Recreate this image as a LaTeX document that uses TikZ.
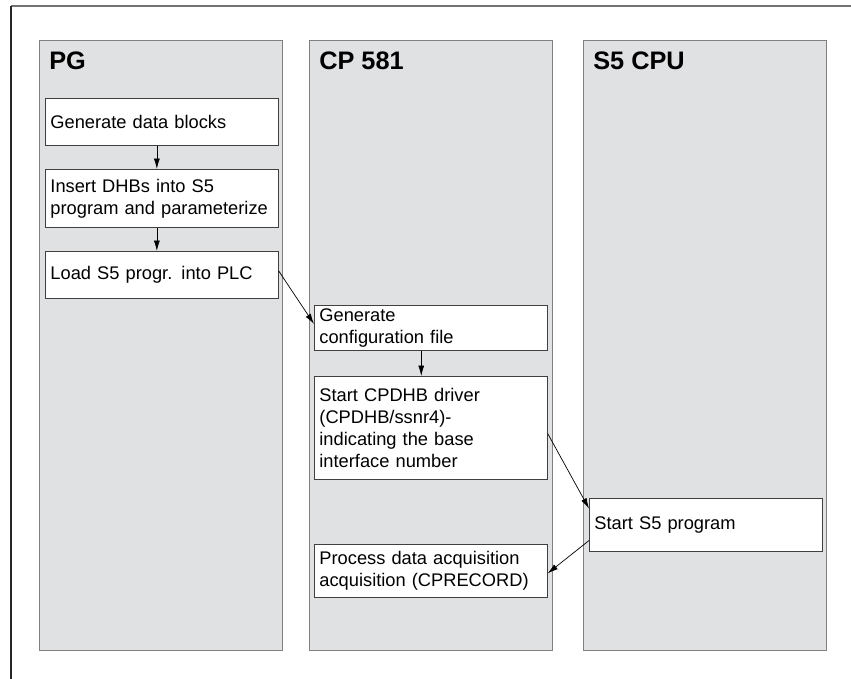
\documentclass[tikz,border=0pt]{standalone}
\usepackage{fontspec}
\setsansfont{Liberation Sans}
\usetikzlibrary{arrows.meta}

\definecolor{lanegray}{RGB}{224,225,227}

\begin{document}
\begin{tikzpicture}[x=0.025cm, y=-0.025cm,
  lane/.style={draw=gray, line width=0.8pt, fill=lanegray, anchor=north west,
               minimum width=6.08cm, minimum height=15.25cm, inner sep=0pt},
  ttl/.style={font=\sffamily\bfseries\fontsize{18}{20}\selectfont, anchor=base west, inner sep=0pt},
  stepbox/.style={draw=black!75, line width=0.6pt, fill=white, anchor=north west,
                  text width=5.57cm, inner xsep=0.125cm, inner ysep=0pt, align=left,
                  font=\sffamily\fontsize{13}{15.6}\selectfont},
  flow/.style={-{Latex[length=2.6mm, width=1.5mm]}, line width=0.5pt}]

  \useasboundingbox (0,0) rectangle (851,679);

  % open frame: top and left edge only
  \draw[gray!90!black, line width=1.3pt] (11,6) -- (851,6);
  \draw[black!85, line width=1pt] (11,6) -- (11,679);

  % Lanes
  \node[lane] (pg)  at (39,40)  {};
  \node[lane] (cp)  at (309,40) {};
  \node[lane] (cpu) at (583,40) {};

  \node[ttl] at ([xshift=0.25cm, yshift=-0.725cm]pg.north west)  {PG};
  \node[ttl] at ([xshift=0.25cm, yshift=-0.725cm]cp.north west)  {CP 581};
  \node[ttl] at ([xshift=0.25cm, yshift=-0.725cm]cpu.north west) {S5 CPU};

  % PG steps
  \node[stepbox, minimum height=1.175cm] (gen)  at (45,98)  {Generate data blocks};
  \node[stepbox, minimum height=1.45cm]  (ins)  at (45,169) {Insert DHBs into S5\\program and parameterize};
  \node[stepbox, minimum height=1.175cm] (load) at (45,251) {Load S5 progr. into PLC};

  % CP 581 steps
  \node[stepbox, minimum height=1.125cm] (cfg)  at (314,305) {Generate\\configuration file};
  \node[stepbox, minimum height=2.575cm] (drv)  at (314,376) {Start CPDHB driver\\(CPDHB/ssnr4)-\\indicating the base\\interface number};
  \node[stepbox, minimum height=1.325cm] (acq)  at (314,544) {Process data acquisition\\acquisition (CPRECORD)};

  % S5 CPU step
  \node[stepbox, minimum height=1.325cm] (run)  at (589,498) {Start S5 program};

  % Connectors
  \draw[flow] ([xshift=-0.125cm]gen.south) -- ([xshift=-0.125cm]ins.north);
  \draw[flow] ([xshift=-0.125cm]ins.south) -- ([xshift=-0.125cm]load.north);
  \draw[flow] ([yshift=0.1cm]load.east) -- ([yshift=0.1cm]cfg.west);
  \draw[flow] ([xshift=-0.24cm]cfg.south) -- ([xshift=-0.24cm]drv.north);
  \draw[flow] ([yshift=-0.14cm]drv.east) -- ([yshift=0.41cm]run.west);
  \draw[flow] ([yshift=-0.39cm]run.west) -- ([yshift=-0.06cm]acq.east);

\end{tikzpicture}
\end{document}
